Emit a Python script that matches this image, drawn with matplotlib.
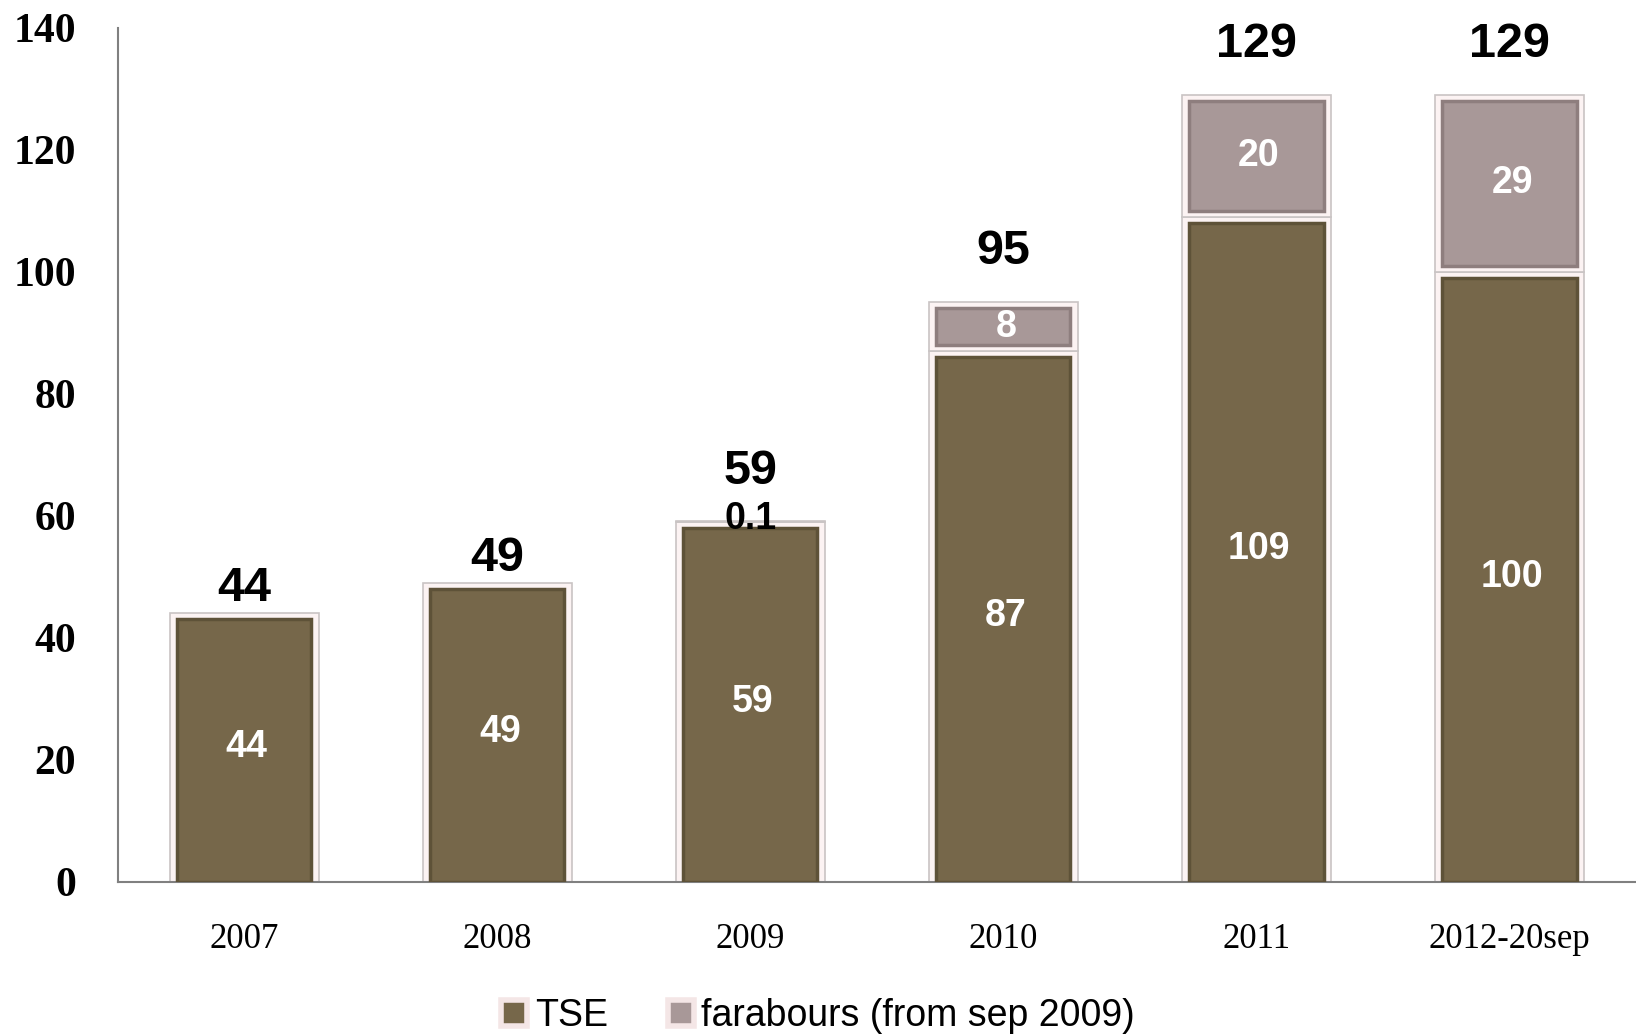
import matplotlib.pyplot as plt
import numpy as np

# chart data
years = ['2007', '2008', '2009', '2010', '2011', '2012-20sep']
tse = [44, 49, 59, 87, 109, 100]
farabours = [0, 0, 0.1, 8, 20, 29]
totals = [44, 49, 59, 95, 129, 129]
tse_labels = ['44', '49', '59', '87', '109', '100']
far_labels = ['', '', '0.1', '8', '20', '29']
yticks = [0, 20, 40, 60, 80, 100, 120, 140]

tse_color = '#76674a'
tse_edge = '#5e5238'
far_color = '#a89898'
far_edge = '#8e7e7e'
frame_color = '#fcf3f3'
frame_edge = '#c9c4c4'

fig = plt.figure(figsize=(16.36, 10.36), dpi=100)
ax = fig.add_axes([0.072, 0.149, 0.928, 0.824])

x = np.arange(len(years))
outer_w = 0.59
inner_w = 0.53

tse_arr = np.array(tse, dtype=float)
far_arr = np.array(farabours, dtype=float)

# outer light frames
ax.bar(x, tse_arr, width=outer_w, color=frame_color, edgecolor=frame_edge, linewidth=1.2, zorder=2)
has_far = far_arr > 0
ax.bar(x[has_far], far_arr[has_far], bottom=tse_arr[has_far], width=outer_w,
       color=frame_color, edgecolor=frame_edge, linewidth=1.2, zorder=2)

# inner fills
ax.bar(x, tse_arr - 1.0, width=inner_w, color=tse_color, edgecolor=tse_edge,
       linewidth=2.5, zorder=3, label='TSE')
big_far = far_arr > 2
ax.bar(x[big_far], far_arr[big_far] - 2.0, bottom=tse_arr[big_far] + 1.0, width=inner_w,
       color=far_color, edgecolor=far_edge, linewidth=2.5, zorder=3,
       label='farabours (from sep 2009)')

# labels
for i in range(len(years)):
    ax.text(x[i] + 0.01, tse[i] / 2, tse_labels[i], ha='center', va='center', color='white',
            fontsize=27, fontweight='bold', family='Liberation Sans', zorder=5)
    if far_labels[i]:
        if farabours[i] < 1:
            ax.text(x[i], tse[i] + 0.4, far_labels[i], ha='center', va='center', color='black',
                    fontsize=27, fontweight='bold', family='Liberation Sans', zorder=5)
        else:
            ax.text(x[i] + 0.01, tse[i] + farabours[i] / 2, far_labels[i], ha='center', va='center',
                    color='white', fontsize=27, fontweight='bold', family='Liberation Sans', zorder=5)
    off = 4.0 if farabours[i] == 0 else 8.3
    ax.text(x[i], totals[i] + off, str(totals[i]), ha='center', va='center', color='black',
            fontsize=35, fontweight='bold', family='Liberation Sans', zorder=5)

ax.set_xlim(-0.5, 5.5)
ax.set_ylim(0, 140)
ax.set_yticks(yticks)
ax.set_yticklabels([str(v) for v in yticks], fontsize=30, fontweight='bold', family='Liberation Serif')
ax.set_xticks(x)
ax.set_xticklabels(years, fontsize=25, family='Liberation Serif')
ax.tick_params(axis='y', length=0, pad=30)
ax.tick_params(axis='x', length=0, pad=30)

for s in ['top', 'right']:
    ax.spines[s].set_visible(False)
ax.spines['left'].set_color('#808080')
ax.spines['bottom'].set_color('#808080')
ax.spines['left'].set_linewidth(1.5)
ax.spines['bottom'].set_linewidth(1.5)

handles = [plt.Rectangle((0, 0), 1, 1, facecolor=tse_color, edgecolor='#f4e6e6', linewidth=4),
           plt.Rectangle((0, 0), 1, 1, facecolor=far_color, edgecolor='#f4e6e6', linewidth=4)]
fig.legend(handles, ['TSE', 'farabours (from sep 2009)'], loc='lower center',
           bbox_to_anchor=(0.5, -0.031), ncol=2, frameon=False,
           prop={'family': 'Liberation Sans', 'size': 27},
           handlelength=0.7, handleheight=0.7, handletextpad=0.2, columnspacing=1.6)

fig.savefig('out.png', dpi=100)
